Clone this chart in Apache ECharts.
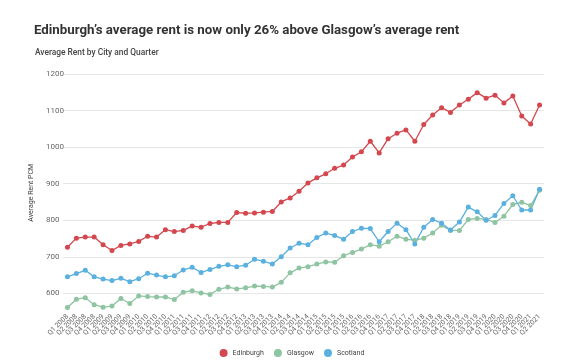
<!DOCTYPE html>
<html>
<head>
<meta charset="utf-8">
<script src="https://cdn.jsdelivr.net/npm/echarts@6/dist/echarts.min.js"></script>
<style>
html,body{margin:0;padding:0;background:#fff;}
#chart{width:584px;height:364px;}
</style>
</head>
<body>
<div id="chart"></div>
<script>
const quarters = [];
for (let y = 2008; y <= 2021; y++) {
  for (let q = 1; q <= 4; q++) {
    if (y === 2021 && q > 2) break;
    quarters.push('Q' + q + ' ' + y);
  }
}
const edinburgh = [726,751,754,754,733,717,731,735,742,756,754,774,769,772,784,781,791,794,794,
  821,819,820,822,824,850,861,879,902,916,927,942,951,973,987,1016,984,1023,1038,1047,1016,
  1062,1088,1108,1095,1115,1131,1149,1134,1142,1121,1140,1085,1063,1115];
const glasgow = [561,584,588,569,562,565,586,572,593,591,590,590,583,603,607,601,597,611,617,
  612,615,620,619,617,630,656,669,673,680,686,685,703,712,721,733,729,741,756,748,745,
  751,765,786,772,772,802,805,802,794,811,843,849,840,882];
const scotland = [645,654,663,645,639,635,641,632,640,655,650,645,648,664,671,657,665,674,678,
  673,677,693,688,680,700,724,737,733,753,765,758,748,769,778,777,741,769,792,774,735,
  781,802,792,773,795,836,823,800,813,846,867,828,828,885];
const seriesNames = ['Edinburgh','Glasgow','Scotland'];
const colors = ['#d4474f','#8ec4a1','#5ab0df'];
const yTicks = [600,700,800,900,1000,1100,1200];

const chart = echarts.init(document.getElementById('chart'));
const font = 'Roboto, "Noto Sans", sans-serif';
chart.setOption({
  animation: false,
  color: colors,
  textStyle: {fontFamily: font},
  title: [
    {text: 'Edinburgh\u2019s average rent is now only 26% above Glasgow\u2019s average rent',
     left: 29, top: 19,
     textStyle: {fontSize: 13.3, fontWeight: 'bold', color: '#333', fontFamily: font}},
    {text: 'Average Rent by City and Quarter', left: 30, top: 44,
     textStyle: {fontSize: 8.4, fontWeight: 500, color: '#444', fontFamily: font}}
  ],
  legend: {
    data: seriesNames, bottom: 2, left: 'center', icon: 'circle',
    itemWidth: 8, itemHeight: 8, itemGap: 10,
    textStyle: {fontSize: 7, color: '#444', fontFamily: font}
  },
  grid: {left: 63, right: 40, top: 74, bottom: 52.4},
  xAxis: {
    type: 'category', data: quarters, boundaryGap: true,
    axisLine: {show: false}, axisTick: {show: false},
    axisLabel: {rotate: 45, interval: 0, fontSize: 7, color: '#666', margin: 4, fontFamily: font}
  },
  yAxis: {
    type: 'value', min: 550, max: 1200, interval: 50,
    name: 'Average Rent PCM', nameLocation: 'middle', nameGap: 10, nameRotate: 90,
    nameTextStyle: {fontSize: 7, color: '#444', fontFamily: font, padding: [0,0,0,0]},
    axisLine: {show: false}, axisTick: {show: false},
    axisLabel: {fontSize: 8, color: '#666', align: 'left', margin: 17, fontFamily: font,
      formatter: v => yTicks.indexOf(v) >= 0 ? String(v) : ''},
    splitLine: {lineStyle: {color: ['rgba(0,0,0,0)', '#e6e6e6'], width: 1}}
  },
  series: [edinburgh, glasgow, scotland].map((d, i) => ({
    name: seriesNames[i], type: 'line', data: d,
    symbol: 'circle', symbolSize: 5,
    lineStyle: {width: 1.3, color: colors[i]},
    itemStyle: {color: colors[i]}
  }))
});
</script>
</body>
</html>
